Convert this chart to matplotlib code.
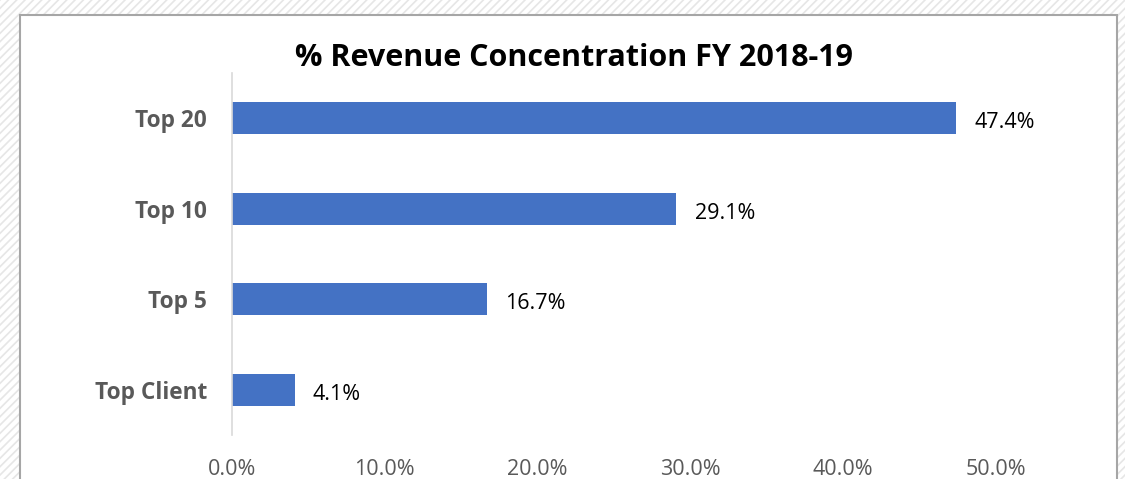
import matplotlib.pyplot as plt
from matplotlib.patches import Rectangle

categories = ["Top Client", "Top 5", "Top 10", "Top 20"]
values = [4.1, 16.7, 29.1, 47.4]
xticks = [0, 10, 20, 30, 40, 50]

plt.rcParams['font.family'] = ['Open Sans', 'DejaVu Sans']
plt.rcParams['hatch.linewidth'] = 1.2

fig = plt.figure(figsize=(11.25, 4.79), dpi=100)

# hatched backdrop and white chart area
bg = Rectangle((0, 0), 1, 1, transform=fig.transFigure, facecolor='white',
               edgecolor='#e6e6e6', hatch='////', linewidth=0, zorder=-3)
fig.patches.append(bg)
card = Rectangle((20 / 1125, -0.05), 1097 / 1125, 1 - 15 / 479 + 0.05,
                 transform=fig.transFigure, facecolor='white',
                 edgecolor='#a6a6a6', linewidth=1.5, zorder=-2)
fig.patches.append(card)

ax = fig.add_axes([232 / 1125, 44 / 479, (995.7 - 232) / 1125, (435 - 73) / 479])
ax.set_facecolor('none')
bars = ax.barh(categories, values, height=0.355, color='#4472c4')
ax.set_xlim(0, 50)
ax.set_ylim(-0.5, 3.5)

for b, v in zip(bars, values):
    ax.text(v + 1.2, b.get_y() + b.get_height() / 2 - 0.05, f"{v:.1f}%",
            va='center', ha='left', fontsize=15.5, color='black')

ax.set_xticks(xticks)
ax.set_xticklabels([f"{t:.1f}%" for t in xticks], fontsize=15.5, color='#595959')
ax.tick_params(axis='x', length=0, pad=17)
ax.tick_params(axis='y', length=0, pad=18)
for lab in ax.get_yticklabels():
    lab.set_fontsize(16.3)
    lab.set_fontweight('bold')
    lab.set_color('#595959')

for s in ['top', 'right', 'bottom']:
    ax.spines[s].set_visible(False)
ax.spines['left'].set_color('#d9d9d9')
ax.spines['left'].set_linewidth(1.2)

fig.text(574 / 1125, 1 - 58 / 479, "% Revenue Concentration FY 2018-19",
         ha='center', va='center', fontsize=22, fontweight='bold', color='black')

fig.savefig("out.png", dpi=100)
